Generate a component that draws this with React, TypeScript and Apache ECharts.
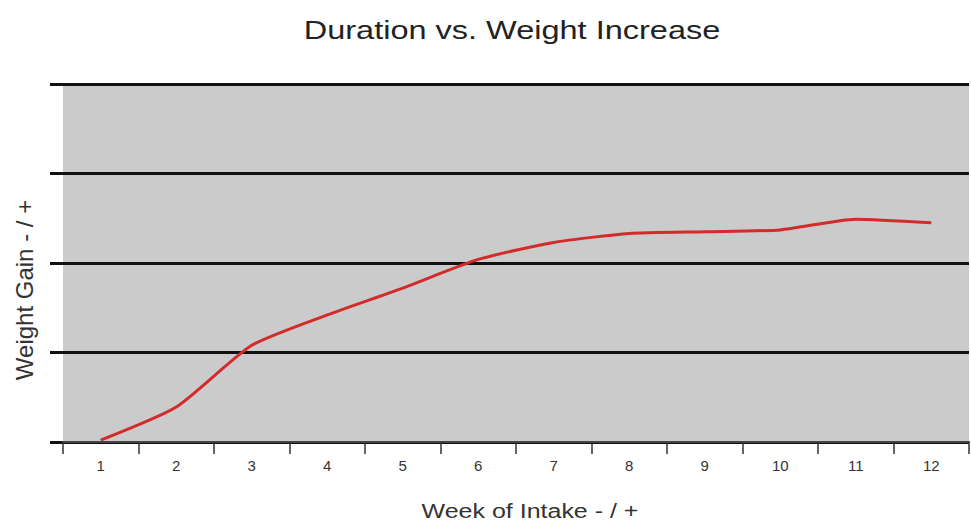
import React, { useEffect, useRef } from "react";
import * as echarts from "echarts";

const weeks = ["1", "2", "3", "4", "5", "6", "7", "8", "9", "10", "11", "12"];
const weightGain = [0.02, 0.39, 1.08, 1.42, 1.72, 2.04, 2.23, 2.33, 2.35, 2.37, 2.49, 2.45];
const yTicks = [0, 1, 2, 3, 4];

const titleText = "Duration vs. Weight Increase";
const xName = "Week of Intake - / +";
const yName = "Weight Gain - / +";

export default function App() {
  const ref = useRef<HTMLDivElement>(null);
  useEffect(() => {
    if (!ref.current) return;
    const chart = echarts.init(ref.current, null, { renderer: "svg" });
    const font = "'Liberation Sans', Arial, sans-serif";
    chart.setOption({
      animation: false,
      backgroundColor: "#ffffff",
      grid: {
        left: 63,
        right: 2,
        top: 84,
        bottom: 83,
        show: true,
        backgroundColor: "#cbcbcb",
        borderWidth: 0,
      },
      xAxis: {
        type: "category",
        data: weeks,
        boundaryGap: true,
        axisLine: { show: true, lineStyle: { color: "#444", width: 2 } },
        axisTick: { show: true, length: 12, lineStyle: { color: "#333", width: 1.5 } },
        axisLabel: { color: "#333", fontSize: 15, fontFamily: font, margin: 16 },
        splitLine: { show: false },
        z: 5,
      },
      yAxis: {
        type: "value",
        min: yTicks[0],
        max: yTicks[yTicks.length - 1],
        interval: 1,
        axisLine: { show: false },
        axisTick: { show: true, length: 13, lineStyle: { color: "#111", width: 3 } },
        axisLabel: { show: false },
        splitLine: { show: true, lineStyle: { color: "#111", width: 3 } },
      },
      graphic: [
        {
          type: "text",
          x: 512,
          y: 30,
          scaleX: 1.25,
          style: {
            text: titleText,
            fontSize: 26,
            fontFamily: font,
            fill: "#222",
            textAlign: "center",
            textVerticalAlign: "middle",
          },
        },
        {
          type: "text",
          x: 530,
          y: 511,
          scaleX: 1.25,
          style: {
            text: xName,
            fontSize: 20,
            fontFamily: font,
            fill: "#333",
            textAlign: "center",
            textVerticalAlign: "middle",
          },
        },
        {
          type: "text",
          x: 24,
          y: 290,
          rotation: Math.PI / 2,
          style: {
            text: yName,
            fontSize: 24,
            fontFamily: font,
            fill: "#333",
            textAlign: "center",
            textVerticalAlign: "middle",
          },
        },
      ],
      series: [
        {
          type: "line",
          data: weightGain,
          smooth: 0.2,
          symbol: "none",
          lineStyle: { color: "#d32a2a", width: 3 },
          z: 4,
        },
      ],
    });
    return () => chart.dispose();
  }, []);
  return <div ref={ref} style={{ width: 971, height: 525, position: "absolute", left: 0, top: 0 }} />;
}
